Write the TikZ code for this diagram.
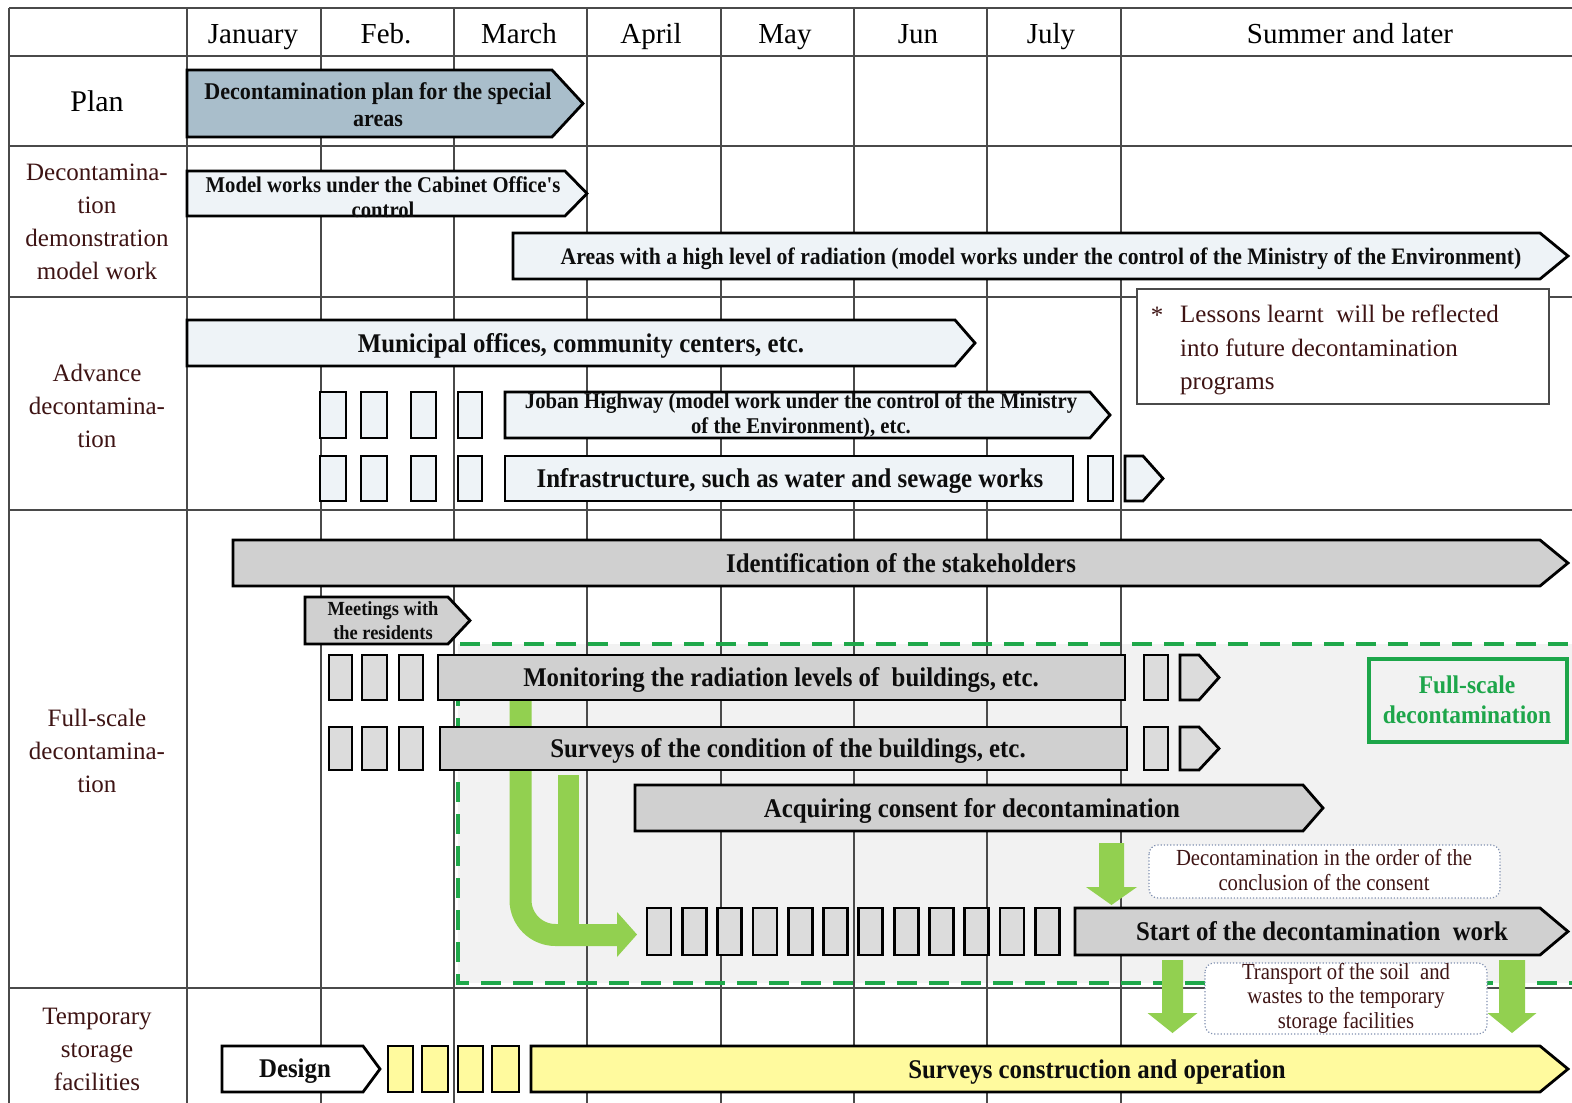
\documentclass[tikz,border=0pt]{standalone}
\usepackage{fontspec}
\setmainfont{Liberation Serif}
\newfontfamily\barfont[FakeStretch=0.92]{Liberation Serif}
\newfontfamily\condfont[FakeStretch=0.9]{Liberation Serif}
\definecolor{planblue}{HTML}{A9BECB}
\definecolor{lightbar}{HTML}{EEF3F7}
\definecolor{graybar}{HTML}{D0D0D0}
\definecolor{graybox}{HTML}{DCDCDC}
\definecolor{regiongray}{HTML}{F2F2F2}
\definecolor{yellowbar}{HTML}{FFFA9E}
\definecolor{arrowgreen}{HTML}{92D050}
\definecolor{dashgreen}{HTML}{1FA84A}
\definecolor{fsgreen}{HTML}{1DA64A}
\definecolor{maroon}{HTML}{3E1414}
\definecolor{dotblue}{HTML}{8090B0}
\definecolor{gridgray}{HTML}{4A4A4A}
\newcommand\chevbar[6]{%
  \filldraw[barline, fill=#6] (#1,#2) -- ({#3-#5},#2) -- (#3,{(#2+#4)/2}) -- ({#3-#5},#4) -- (#1,#4) -- cycle;}
\newcommand\rectbar[5]{\filldraw[barline, fill=#5] (#1,#2) rectangle (#3,#4);}
\newcommand\gdown[6]{%
  \fill[arrowgreen] ({#1-#2},#4) -- ({#1+#2},#4) -- ({#1+#2},#5) -- ({#1+#3},#5) -- (#1,#6) -- ({#1-#3},#5) -- ({#1-#2},#5) -- cycle;}
\begin{document}
\begin{tikzpicture}[x=1pt,y=-1pt,
  barline/.style={line width=2.8pt, draw=black, line join=miter},
  grid/.style={line width=1.5pt, draw=gridgray},
  greendash/.style={line width=4pt, draw=dashgreen, dash pattern=on 20pt off 12pt},
  month/.style={font=\fontsize{29}{33}\selectfont, inner sep=0pt, anchor=base},
  rowlab/.style={font=\fontsize{25}{33}\selectfont, text=maroon, align=center, inner sep=0pt},
  bartext/.style={align=center, inner sep=0pt, text=black!95},
  big/.style={font=\barfont\bfseries\fontsize{27}{30}\selectfont, text height=18pt, text depth=0pt},
  dotbox/.style={draw=dotblue, line width=1.2pt, dotted, fill=white, rounded corners=9pt},
  dottext/.style={font=\condfont\fontsize{23}{24.5}\selectfont, text=maroon, align=center, inner sep=0pt}
]
\useasboundingbox (0,0) rectangle (1572,1103);
\fill[white] (0,0) rectangle (1572,1103);
% shaded full-scale region
\fill[regiongray] (458,644) rectangle (1600,983);
% grid
\foreach \y in {8,56,146,297,510,988} \draw[grid] (9,\y) -- (1572,\y);
\foreach \x in {9,187,321,454,587,721,854,987,1121} \draw[grid] (\x,8) -- (\x,1103);
% dashed border of full-scale decontamination
\draw[greendash] (1600,644) -- (458,644) -- (458,983) -- (1600,983);

% header
\node[month] (jan) at (253,43) {January};
\node[month] (feb) at (386,43) {Feb.};
\node[month] (mar) at (519,43) {March};
\node[month] (apr) at (651,43) {April};
\node[month] (may) at (785,43) {May};
\node[month] (jun) at (918,43) {Jun};
\node[month] (jul) at (1051,43) {July};
\node[month] (sum) at (1350,43) {Summer and later};

% row labels
\node[rowlab, font=\fontsize{30}{33}\selectfont, text=black] (rplan) at (97,101) {Plan};
\node[rowlab] (rdemo) at (97,222) {Decontamina-\\tion\\demonstration\\model work};
\node[rowlab] (radv) at (97,406) {Advance\\decontamina-\\tion};
\node[rowlab] (rfull) at (97,751) {Full-scale\\decontamina-\\tion};
\node[rowlab] (rtemp) at (97,1049) {Temporary\\storage\\facilities};

% green flow arrows
\draw[arrowgreen, line width=22pt, rounded corners=35pt] (520.5,700) -- (520.5,935) -- (618,935);
\fill[arrowgreen] (617,912) -- (637,934.5) -- (617,957) -- cycle;
\fill[arrowgreen] (558,775) rectangle (579,926);
\gdown{1111.5}{12.5}{25.5}{843}{887}{905}
\gdown{1172.5}{10.5}{25}{960}{1013}{1033}
\gdown{1512}{13}{24.5}{960}{1013}{1033}

% Plan
\chevbar{187}{70}{583}{137}{31}{planblue}
\node[bartext, font=\barfont\bfseries\fontsize{24}{27}\selectfont] (plantxt) at (378,105) {Decontamination plan for the special\\areas};

% Demonstration model work
\chevbar{187}{171}{587}{216}{22}{lightbar}
\node[bartext, font=\barfont\bfseries\fontsize{22.5}{25}\selectfont] (cabinet) at (383,197) {Model works under the Cabinet Office's\\control};
\chevbar{513}{233}{1568}{279}{28}{lightbar}
\node[bartext, font=\barfont\bfseries\fontsize{23.6}{27}\selectfont, text height=15.6pt, text depth=0pt] (areas) at (1041,257) {Areas with a high level of radiation (model works under the control of the Ministry of the Environment)};

% Lessons box
\filldraw[line width=1.5pt, draw=gridgray, fill=white] (1137,289) rectangle (1549,404);
\node[inner sep=0pt, font=\fontsize{25}{33.5}\selectfont, text=maroon] (ast) at (1157,315) {*};
\node[inner sep=0pt, anchor=west, align=left, font=\fontsize{25}{33.5}\selectfont, text=maroon] (lessons) at (1180,350) {Lessons learnt\ \ will be reflected\\into future decontamination\\programs};

% Advance decontamination
\chevbar{187}{320}{975}{366}{20}{lightbar}
\node[bartext, big] (muni) at (581,343) {Municipal offices, community centers, etc.};
\foreach \a/\b in {320/346,361/387,411/436,458/482} {\rectbar{\a}{392}{\b}{438}{lightbar}}
\chevbar{505}{392}{1110}{438}{20}{lightbar}
\node[bartext, font=\barfont\bfseries\fontsize{22.5}{25}\selectfont] (joban) at (801,415) {Joban Highway (model work under the control of the Ministry\\of the Environment), etc.};
\foreach \a/\b in {320/346,361/387,411/436,458/482} {\rectbar{\a}{456}{\b}{501}{lightbar}}
\rectbar{505}{456}{1073}{501}{lightbar}
\node[bartext, big] (infra) at (790,478.5) {Infrastructure, such as water and sewage works};
\rectbar{1088}{456}{1113}{501}{lightbar}
\chevbar{1125}{456}{1163}{501}{20}{lightbar}

% Full-scale decontamination
\chevbar{233}{540}{1568}{586}{28}{graybar}
\node[bartext, big] (ident) at (901,563) {Identification of the stakeholders};
\chevbar{305}{597}{470}{644}{22}{graybar}
\node[bartext, font=\barfont\bfseries\fontsize{20}{24}\selectfont] (meet) at (383,621) {Meetings with\\the residents};
\foreach \a/\b in {329/352,362/387,399/423} {\rectbar{\a}{655}{\b}{700}{graybox}}
\rectbar{438}{655}{1125}{700}{graybar}
\node[bartext, big] (monit) at (781,677) {Monitoring the radiation levels of\ \ buildings, etc.};
\rectbar{1144}{655}{1168}{700}{graybox}
\chevbar{1180}{655}{1219}{700}{20}{graybox}
\foreach \a/\b in {329/352,362/387,399/423} {\rectbar{\a}{727}{\b}{770}{graybox}}
\rectbar{440}{727}{1127}{770}{graybar}
\node[bartext, big] (survey) at (788,748) {Surveys of the condition of the buildings, etc.};
\rectbar{1144}{727}{1168}{770}{graybox}
\chevbar{1180}{727}{1219}{770}{20}{graybox}
\chevbar{635}{785}{1323}{831}{20}{graybar}
\node[bartext, big] (consent) at (972,808) {Acquiring consent for decontamination};
\foreach \i in {0,...,11} {\pgfmathsetmacro\xa{647+35.3*\i}\pgfmathsetmacro\xb{\xa+24}\rectbar{\xa}{908}{\xb}{955}{graybox}}
\chevbar{1075}{908}{1568}{955}{28}{graybar}
\node[bartext, big] (start) at (1322,931) {Start of the decontamination\ \ work};

% Full-scale label box
\filldraw[line width=3.5pt, draw=fsgreen, fill=regiongray] (1369,659) rectangle (1567,742);
\node[bartext, text=fsgreen, font=\barfont\bfseries\fontsize{25.5}{30}\selectfont] (fslab) at (1467,700) {Full-scale\\decontamination};

% dotted notes
\draw[dotbox] (1149,845) rectangle (1500,898);
\node[dottext] (order) at (1324,870) {Decontamination in the order of the\\conclusion of the consent};
\draw[dotbox] (1205,963) rectangle (1487,1034);
\node[dottext] (transport) at (1346,998) {Transport of the soil\ \ and\\wastes to the temporary\\storage facilities};

% Temporary storage facilities
\chevbar{222}{1046}{380}{1092}{17}{white}
\node[bartext, big] (design) at (295,1068) {Design};
\foreach \a/\b in {388/413,422/448,458/483,492/519} {\rectbar{\a}{1046}{\b}{1092}{yellowbar}}
\chevbar{531}{1046}{1568}{1092}{28}{yellowbar}
\node[bartext, big] (constr) at (1097,1069) {Surveys construction and operation};
\end{tikzpicture}
\end{document}
